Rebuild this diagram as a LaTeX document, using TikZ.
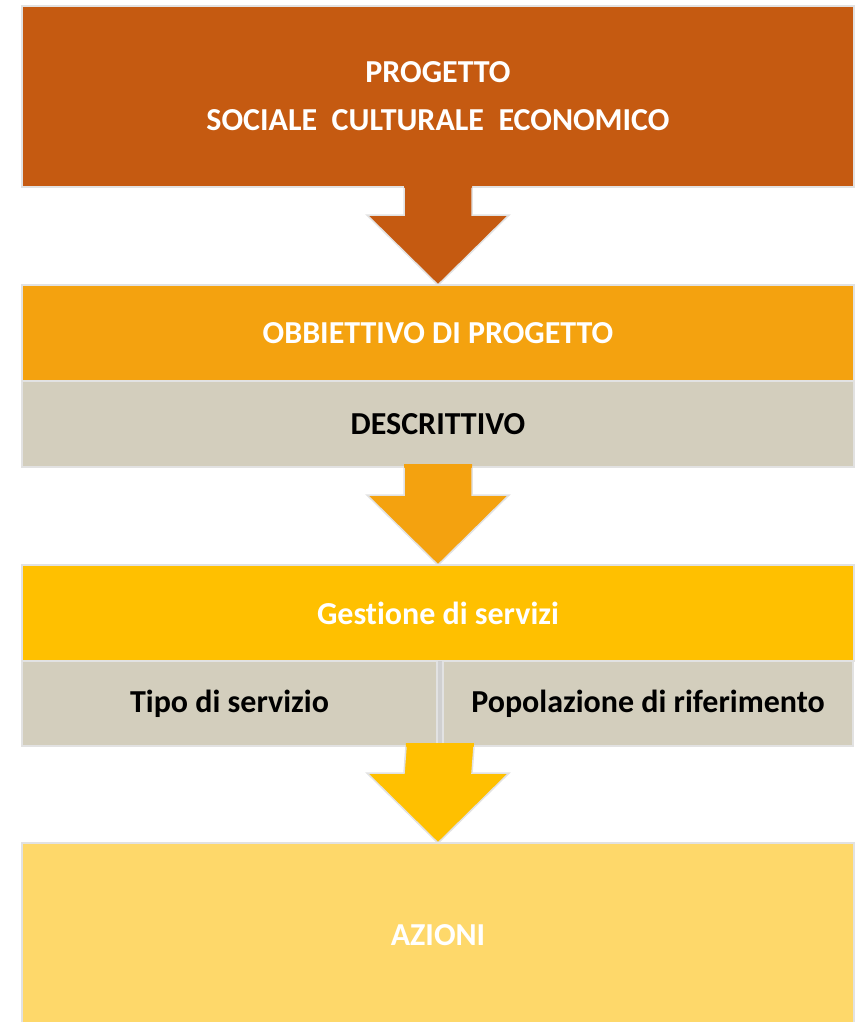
\documentclass[tikz,border=0pt]{standalone}
\usepackage{fontspec}
\setmainfont[Ligatures={NoCommon}]{Carlito}
\usetikzlibrary{calc}
\definecolor{cA}{HTML}{C55A11}
\definecolor{cB}{HTML}{F4A20F}
\definecolor{cC}{HTML}{FFC000}
\definecolor{cD}{HTML}{FED86A}
\definecolor{cG}{HTML}{D3CEBD}
\definecolor{cE}{HTML}{E2E2E2}
\definecolor{cS}{HTML}{D0D0D0}
\tikzset{
  blk/.style={draw=cE, line width=1.5pt, inner sep=0pt, outer sep=0pt,
    font=\fontsize{32}{48}\selectfont\bfseries, align=center},
  whitetxt/.style={blk, text=white},
  graytxt/.style={blk, fill=cG, text=black},
  arr/.style={draw=cE, line width=1.5pt, line join=miter},
}
\newcommand{\blockarrow}[3]{%
  \fill[#3] ($(#1.south)+(-34,-3)$) -- ($(#2.north)+(-34,-70)$) -- ($(#2.north)+(-71,-70)$) -- (#2.north)
     -- ($(#2.north)+(71,-70)$) -- ($(#2.north)+(34,-70)$) -- ($(#1.south)+(34,-3)$) -- cycle;
  \draw[arr] ($(#1.south)+(-34,0.8)$) -- ($(#2.north)+(-34,-70)$) -- ($(#2.north)+(-71,-70)$) -- (#2.north)
     -- ($(#2.north)+(71,-70)$) -- ($(#2.north)+(34,-70)$) -- ($(#1.south)+(34,0.8)$);
}
\begin{document}
\begin{tikzpicture}[x=1pt,y=-1pt]
\useasboundingbox[fill=white] (0,0) rectangle (856,1022);
\clip (0,0) rectangle (856,1022);
\node[whitetxt, fill=cA, minimum width=832pt, minimum height=181pt] (b1) at (438,96.5)
  {PROGETTO\\SOCIALE\ \ CULTURALE\ \ ECONOMICO};
\node[whitetxt, fill=cB, minimum width=832pt, minimum height=96pt] (b2) at (438,333) {OBBIETTIVO DI PROGETTO};
\node[graytxt, minimum width=832pt, minimum height=86pt] (d2) at (438,424) {DESCRITTIVO};
\node[whitetxt, fill=cC, minimum width=832pt, minimum height=96pt] (b3) at (438,613) {Gestione di servizi};
\fill[cS] (436,661) rectangle (444,746);
\node[graytxt, minimum width=415pt, minimum height=85pt] (t1) at (229.5,703.5) {Tipo di servizio};
\node[graytxt, minimum width=410pt, minimum height=85pt] (t2) at (648,703.5) {Popolazione di riferimento};
\node[whitetxt, fill=cD, minimum width=832pt, minimum height=190pt] (b4) at (438,938) {};
\node[font=\fontsize{32}{38}\selectfont\bfseries, text=white] (az) at (438,935) {AZIONI};
\blockarrow{b1}{b2}{cA}
\blockarrow{d2}{b3}{cB}
\coordinate (t12) at ($(t1.south east)!0.5!(t2.south west)$);
\blockarrow{t12}{b4}{cC}
\end{tikzpicture}
\end{document}
